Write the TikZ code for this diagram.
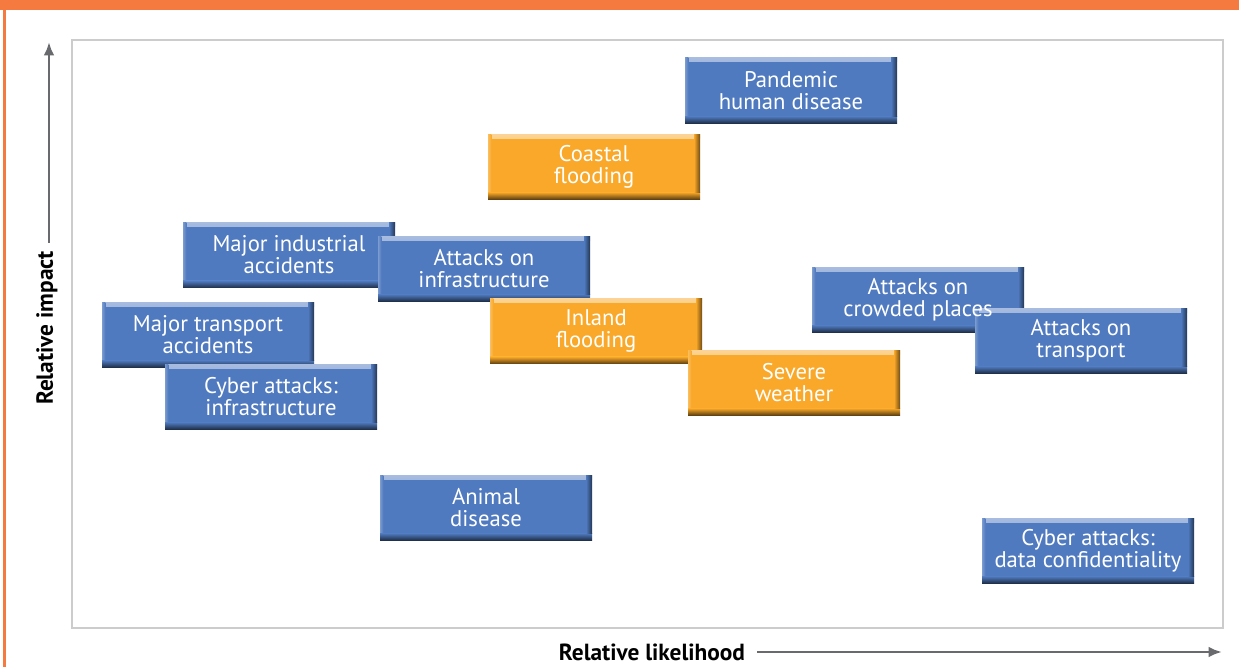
\documentclass[tikz,border=0pt]{standalone}
\usepackage{fontspec}
\setmainfont{PT Sans}
\usetikzlibrary{positioning,arrows.meta}

\definecolor{riskblue}{RGB}{80,122,191}
\definecolor{riskorange}{RGB}{249,168,41}
\definecolor{pageorange}{RGB}{245,122,64}
\definecolor{axisgrey}{RGB}{105,106,110}
\definecolor{framegrey}{RGB}{204,204,204}

\tikzset{
	boxlabel/.style={inner sep=0pt, align=center, text=white, font=\fontsize{17}{16.5}\selectfont},
	riskbox/.style={boxlabel, minimum width=159pt, minimum height=48.75pt, fill=#1,
		path picture={
			\shade[top color=#1!50!white, bottom color=#1] (path picture bounding box.north west) rectangle ([yshift=-3pt]path picture bounding box.north east);
			\shade[left color=#1!75!white, right color=#1] (path picture bounding box.north west) rectangle ([xshift=2.5pt]path picture bounding box.south west);
			\shade[top color=#1, bottom color=#1!40!black] ([yshift=5pt]path picture bounding box.south west) rectangle (path picture bounding box.south east);
			\shade[left color=#1, right color=#1!45!black] ([xshift=-4.5pt]path picture bounding box.north east) rectangle ([yshift=5pt]path picture bounding box.south east);
		}},
	bluebox/.style={riskbox=riskblue},
	orangebox/.style={riskbox=riskorange},
	axislabel/.style={font=\bfseries\fontsize{17.5}{19}\selectfont, text=black, inner sep=0pt},
	axisarrow/.style={draw=axisgrey, line width=2pt, -{Latex[length=10pt,width=8pt]}}
}

\begin{document}
\begin{tikzpicture}[x=0.75pt,y=-0.75pt]
	\useasboundingbox (0,0) rectangle (1239,667);
	%% page frame
	\fill[pageorange] (0,0) rectangle (1239,10);
	\fill[pageorange] (3,10) rectangle (6,667);
	\draw[framegrey, line width=1.2pt] (72,40) rectangle (1223,628);
	%% axes
	\node[axislabel] (xlab) at (652,652) {Relative likelihood};
	\node[axislabel, rotate=90] (ylab) at (47,328) {Relative impact};
	\coordinate (xtip) at (1222,652);
	\coordinate (ytip) at (49,42);
	\draw[axisarrow] ([xshift=9pt]xlab.east) -- (xtip);
	\draw[axisarrow] ([yshift=6pt]ylab.east -| ytip) -- (ytip);
	%% risks
	\node[bluebox] (pandemic) at (791,90.5) {Pandemic\\human disease};
	\node[orangebox] (coastal) at (594,166.5) {Coastal\\flooding};
	\node[bluebox] (industrial) at (289,255) {Major industrial\\accidents};
	\node[bluebox] (infra) at (484,268.5) {Attacks on\\infrastructure};
	\node[bluebox] (transportacc) at (208,334.5) {Major transport\\accidents};
	\node[bluebox] (cyberinfra) at (271,396.5) {Cyber attacks:\\infrastructure};
	\node[orangebox] (inland) at (596,331) {Inland\\flooding};
	\node[orangebox] (weather) at (794,382.5) {Severe\\weather};
	\node[bluebox] (crowded) at (918,299.5) {};
	\node[bluebox] (transport) at (1081,340.5) {Attacks on\\transport};
	\node[boxlabel] (crowdedtext) at (crowded) {Attacks on\\crowded places};
	\node[bluebox] (animal) at (486,507.5) {Animal\\disease};
	\node[bluebox] (cyberdata) at (1088,550.5) {Cyber attacks:\\data confidentiality};
\end{tikzpicture}
\end{document}
